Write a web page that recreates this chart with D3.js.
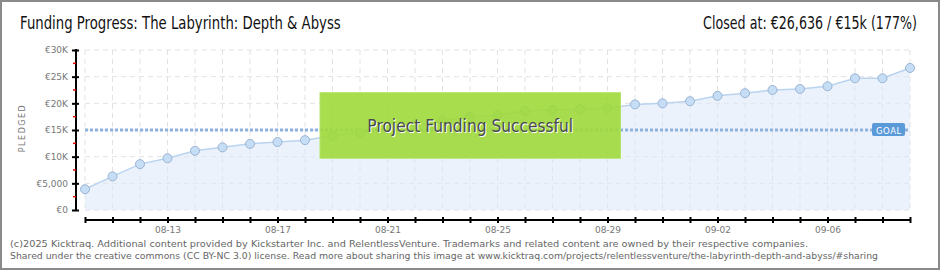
<!DOCTYPE html>
<html>
<head>
<meta charset="utf-8">
<script src="https://cdn.jsdelivr.net/npm/d3@7"></script>
<style>
  body { margin:0; background:#fff; }
  svg { display:block; }
</style>
</head>
<body>
<div id="vis"></div>
<script>
// data
var dates = ["08-10","08-11","08-12","08-13","08-14","08-15","08-16","08-17","08-18","08-19",
  "08-20","08-21","08-22","08-23","08-24","08-25","08-26","08-27","08-28","08-29",
  "08-30","08-31","09-01","09-02","09-03","09-04","09-05","09-06","09-07","09-08","09-09"];
var pledged = [3900, 6300, 8600, 9700, 11100, 11750, 12400, 12750, 13100, 13900,
  14500, 15300, 16000, 16750, 17500, 17800, 18600, 18750, 18900, 19100,
  19800, 20000, 20400, 21400, 21900, 22500, 22700, 23200, 24700, 24700, 26636];
var labelDates = ["08-13","08-17","08-21","08-25","08-29","09-02","09-06"];
var yTicks = [0, 5000, 10000, 15000, 20000, 25000, 30000];
var yTickLabels = ["€0","€5,000","€10K","€15K","€20K","€25K","€30K"];
var goal = 15000;

var W = 940, H = 270;
var margin = {top:50, right:30, bottom:60, left:85};
var width = W - margin.left - margin.right;
var height = H - margin.top - margin.bottom;

var sans = "'DejaVu Sans', sans-serif";

var svg = d3.select("#vis").append("svg")
  .attr("width", W).attr("height", H);

// squeeze a text horizontally so it spans targetW px
function fit(sel, tx, ty, targetW) {
  var w = sel.node().getComputedTextLength();
  sel.attr("transform", "translate(" + tx + "," + ty + ") scale(" + (targetW / w) + ",1)");
}

// outer frame
svg.append("rect")
  .attr("x", 1).attr("y", 1).attr("width", W - 2).attr("height", H - 2)
  .attr("fill", "#fff").attr("stroke", "#8a8a8a").attr("stroke-width", 2);

var x = d3.scalePoint().domain(dates).range([0, width]);
var y = d3.scaleLinear().domain([0, 30000]).range([height, 0]);

var g = svg.append("g")
  .attr("transform", "translate(" + margin.left + "," + margin.top + ")");

// grid
g.selectAll(".vgrid").data(dates).enter().append("line")
  .attr("x1", function(d){ return x(d); }).attr("x2", function(d){ return x(d); })
  .attr("y1", 0).attr("y2", height)
  .attr("stroke", "#e2e2e2").attr("stroke-dasharray", "5,4");
g.selectAll(".hgrid").data(yTicks).enter().append("line")
  .attr("x1", 0).attr("x2", width)
  .attr("y1", function(d){ return y(d); }).attr("y2", function(d){ return y(d); })
  .attr("stroke", "#e2e2e2").attr("stroke-dasharray", "5,4");

// area + line
var area = d3.area()
  .x(function(d, i){ return x(dates[i]); })
  .y0(height)
  .y1(function(d){ return y(d); });
var line = d3.line()
  .x(function(d, i){ return x(dates[i]); })
  .y(function(d){ return y(d); });

g.append("path").datum(pledged)
  .attr("d", area).attr("fill", "#dde9f8").attr("fill-opacity", 0.6);
g.append("path").datum(pledged)
  .attr("d", line).attr("fill", "none").attr("stroke", "#b9d3f0").attr("stroke-width", 1.5);

// goal line
g.append("line")
  .attr("x1", 0).attr("x2", width)
  .attr("y1", y(goal)).attr("y2", y(goal))
  .attr("stroke", "#8db2e0").attr("stroke-width", 3).attr("stroke-dasharray", "3,2");

// points
g.selectAll(".pt").data(pledged).enter().append("circle")
  .attr("cx", function(d, i){ return x(dates[i]); })
  .attr("cy", function(d){ return y(d); })
  .attr("r", 4.5)
  .attr("fill", "#c6ddf6").attr("stroke", "#9bb4d2").attr("stroke-width", 1);

// goal tag
var gx = x(dates[dates.length - 1]);
g.append("rect")
  .attr("x", gx - 38).attr("y", y(goal) - 7).attr("width", 33).attr("height", 13)
  .attr("rx", 2).attr("fill", "#5b9ad8");
g.append("text")
  .attr("x", gx - 34).attr("y", y(goal) + 3.5)
  .attr("fill", "#fff").style("font-family", sans).style("font-size", "8.5px")
  .style("letter-spacing", "0.5px")
  .text("GOAL");

// y axis
var yAxis = d3.axisLeft(y).tickValues(yTicks)
  .tickFormat(function(d, i){ return yTickLabels[i]; })
  .tickSize(4).tickSizeOuter(0);
var ya = g.append("g").attr("transform", "translate(-9,0)").call(yAxis);
ya.select(".domain").attr("stroke", "#000").attr("stroke-width", 2)
  .attr("d", "M0," + (y(30000) - 1) + "V" + (y(0) + 1));
ya.selectAll(".tick line").attr("stroke", "#000").attr("stroke-width", 2).attr("x1", 3);
ya.selectAll(".tick text")
  .attr("x", -8).attr("fill", "#777")
  .style("font-family", sans).style("font-size", "9px");

// minor red ticks
var minor = [2500, 7500, 12500, 17500, 22500, 27500];
ya.selectAll(".minor").data(minor).enter().append("line")
  .attr("x1", -3).attr("x2", 0)
  .attr("y1", function(d){ return y(d); }).attr("y2", function(d){ return y(d); })
  .attr("stroke", "#e00").attr("stroke-width", 1.5);

// x axis
var xAxis = d3.axisBottom(x).tickSize(5).tickSizeOuter(0)
  .tickFormat(function(d){ return labelDates.indexOf(d) >= 0 ? d : ""; });
var xa = g.append("g").attr("transform", "translate(0," + (height + 10) + ")").call(xAxis);
xa.select(".domain").attr("stroke", "#000").attr("stroke-width", 2)
  .attr("d", "M0,0H" + width);
xa.selectAll(".tick line").attr("stroke", "#000").attr("stroke-width", 2).attr("y1", -3).attr("y2", 3);
xa.selectAll(".tick text").attr("y", 7).attr("fill", "#777")
  .style("font-family", sans).style("font-size", "9px");

// y label
svg.append("text")
  .attr("transform", "translate(25," + (margin.top + height / 2 - 2) + ") rotate(-90)")
  .attr("text-anchor", "middle")
  .attr("fill", "#777")
  .style("font-family", sans).style("font-size", "8px")
  .style("letter-spacing", "1.5px")
  .text("PLEDGED");

// success banner
var bx0 = x(dates[8]) + 15, bx1 = x(dates[19]) + 13;
g.append("rect")
  .attr("x", bx0).attr("y", y(22000)).attr("width", bx1 - bx0).attr("height", y(9700) - y(22000))
  .attr("fill", "#9ed93a").attr("fill-opacity", 0.9)
  .attr("stroke", "#b5e36a").attr("stroke-width", 1);
var cx = (bx0 + bx1) / 2;
var b1 = g.append("text")
  .attr("text-anchor", "middle")
  .attr("fill", "#fff")
  .style("font-family", sans).style("font-size", "18px")
  .text("Project Funding Successful");
fit(b1, cx + 1, y(15000) + 3, 206);
var b2 = g.append("text")
  .attr("text-anchor", "middle")
  .attr("fill", "#4a4a4a")
  .style("font-family", sans).style("font-size", "18px")
  .text("Project Funding Successful");
fit(b2, cx, y(15000) + 2, 206);

// titles
var t1 = svg.append("text")
  .attr("fill", "#111")
  .style("font-family", sans).style("font-size", "17px")
  .text("Funding Progress: The Labyrinth: Depth & Abyss");
fit(t1, 20, 29, 321);
var t2 = svg.append("text")
  .attr("text-anchor", "end")
  .attr("fill", "#111")
  .style("font-family", sans).style("font-size", "17px")
  .text("Closed at:  €26,636 /  €15k (177%)");
fit(t2, 917, 29, 214);

// footer
svg.append("text")
  .attr("x", 10).attr("y", 247)
  .attr("fill", "#666")
  .style("font-family", sans).style("font-size", "9.5px")
  .attr("textLength", 798).attr("lengthAdjust", "spacingAndGlyphs")
  .text("(c)2025 Kicktraq. Additional content provided by Kickstarter Inc. and RelentlessVenture. Trademarks and related content are owned by their respective companies.");
svg.append("text")
  .attr("x", 10).attr("y", 259)
  .attr("fill", "#666")
  .style("font-family", sans).style("font-size", "9.5px")
  .attr("textLength", 868).attr("lengthAdjust", "spacingAndGlyphs")
  .text("Shared under the creative commons (CC BY-NC 3.0) license. Read more about sharing this image at www.kicktraq.com/projects/relentlessventure/the-labyrinth-depth-and-abyss/#sharing");
</script>
</body>
</html>
